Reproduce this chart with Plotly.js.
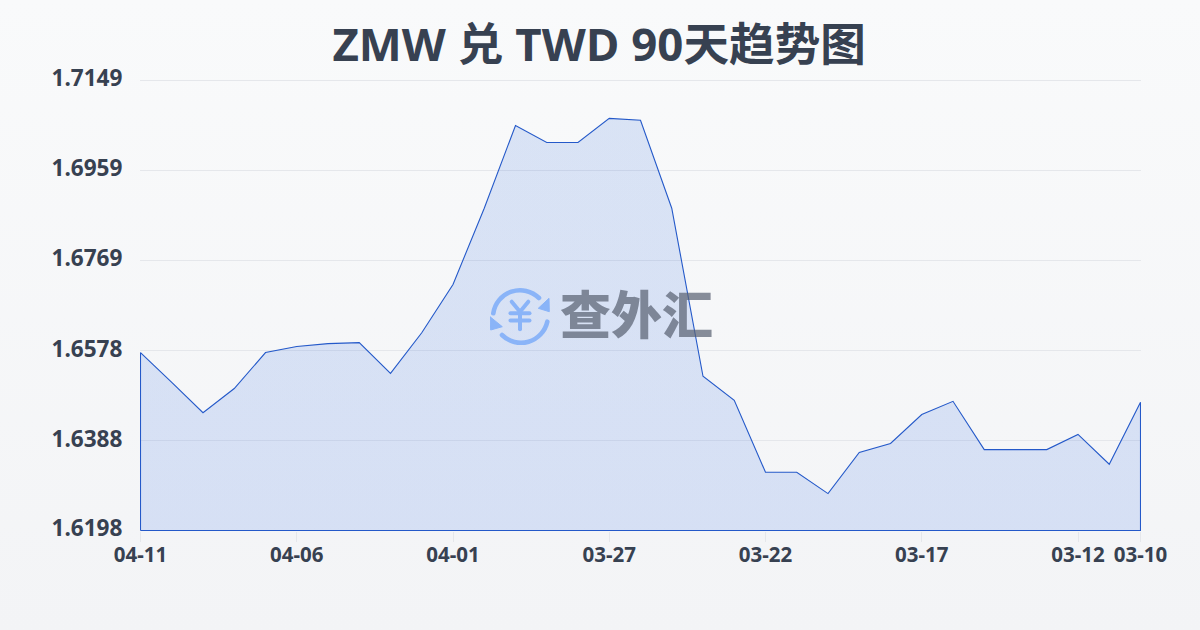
<!DOCTYPE html>
<html>
<head>
<meta charset="utf-8">
<script src="https://cdn.plot.ly/plotly-3.0.1.min.js"></script>
<style>
html,body{margin:0;padding:0;width:1200px;height:630px;overflow:hidden;background:linear-gradient(180deg,#f9fafb 0%,#f3f4f6 100%);}
#chart{width:1200px;height:630px;}
</style>
</head>
<body>
<div id="chart"></div>
<script>
const titleText = "ZMW 兑 TWD 90天趋势图";
const watermarkText = "查外汇";
const dates = ["04-11","04-10","04-09","04-08","04-07","04-06","04-05","04-04","04-03","04-02","04-01",
  "03-31","03-30","03-29","03-28","03-27","03-26","03-25","03-24","03-23","03-22",
  "03-21","03-20","03-19","03-18","03-17","03-16","03-15","03-14","03-13","03-12","03-11","03-10"];
const rates = [1.6574,1.6511,1.6447,1.6498,1.6574,1.6587,1.6593,1.6595,1.6530,1.6616,1.6718,
  1.6879,1.7054,1.7018,1.7018,1.7069,1.7065,1.6879,1.6524,1.6473,1.6321,
  1.6321,1.6276,1.6363,1.6382,1.6443,1.6471,1.6369,1.6369,1.6369,1.6401,1.6338,1.6469];
const xTicks = ["04-11","04-06","04-01","03-27","03-22","03-17","03-12","03-10"];
const yTicks = [1.6198,1.6388,1.6578,1.6769,1.6959,1.7149];
const yTickText = ["1.6198","1.6388","1.6578","1.6769","1.6959","1.7149"];

const yMin = yTicks[0], yMax = yTicks[yTicks.length-1];
const first = dates[0], last = dates[dates.length-1];
// small paddings keep the edge lines crisp on whole pixels and keep the top gridline inside the range
const yUnit = (yMax - yMin) / 450;
const xUnit = (dates.length - 1) / 1000;

const iconSvg = `<svg xmlns="http://www.w3.org/2000/svg" viewBox="0 0 60 60" width="60" height="60">
<g fill="none" stroke="#8ab4f8" stroke-width="4.6" stroke-linecap="round">
<path d="M3.3 27.3 A27 27 0 0 1 49 12"/>
<path d="M57.3 35.7 A27 27 0 0 1 12 49"/>
</g>
<path d="M48.3 22.3 L59 12.3 L59.3 25.7 Z" fill="#8ab4f8" stroke="#8ab4f8" stroke-width="1" stroke-linejoin="round"/>
<path d="M0 30.7 L12.3 40.7 L0.7 44 Z" fill="#8ab4f8" stroke="#8ab4f8" stroke-width="1" stroke-linejoin="round"/>
<g fill="none" stroke="#8ab4f8" stroke-width="4" stroke-linecap="round" stroke-linejoin="round">
<path d="M21.7 15.7 L30 25.7 L38.3 15.7"/>
<path d="M20.5 27.3 L39.5 27.3"/>
<path d="M20.5 34.5 L39.5 34.5"/>
<path d="M30 25.7 L30 43.3"/>
</g></svg>`;

const trace = {
  type: "scatter",
  mode: "lines",
  x: [first].concat(dates, [last, first]),
  y: [yMin].concat(rates, [yMin, yMin]),
  fill: "toself",
  fillgradient: {
    type: "vertical",
    colorscale: [[0,"rgba(37,99,230,0.145)"],[1,"rgba(37,99,215,0.145)"]]
  },
  line: {color: "#2459c9", width: 1.1},
  cliponaxis: false,
  hoverinfo: "skip"
};

const layout = {
  width: 1200, height: 630,
  paper_bgcolor: "rgba(0,0,0,0)",
  plot_bgcolor: "rgba(0,0,0,0)",
  margin: {l:140, r:59, t:79, b:99, pad:0},
  showlegend: false,
  title: {
    text: titleText,
    x: 0.4993, xref: "container", xanchor: "center",
    y: 0.9286, yref: "container", yanchor: "middle",
    font: {family: "'Open Sans','Noto Sans CJK SC',sans-serif", size: 45.6, weight: 700, color: "#374151"}
  },
  xaxis: {
    type: "category",
    categoryorder: "array",
    categoryarray: dates,
    range: [-0.5*xUnit, dates.length-1+0.5*xUnit],
    tickmode: "array",
    tickvals: xTicks,
    ticktext: xTicks,
    ticks: "outside", ticklen: 10, tickwidth: 1, tickcolor: "#e5e7eb",
    showgrid: false, zeroline: false, showline: false,
    tickangle: 0,
    ticklabelstandoff: -5,
    tickfont: {family: "'Noto Sans',sans-serif", size: 20.5, weight: 700, color: "#374151"},
    automargin: false
  },
  yaxis: {
    range: [yMin - 0.5*yUnit, yMax + 1.5*yUnit],
    tickmode: "array",
    tickvals: yTicks,
    ticktext: yTickText,
    ticks: "outside", ticklen: 12, tickwidth: 1, tickcolor: "rgba(0,0,0,0)",
    ticklabelshift: -2,
    showgrid: true, gridcolor: "#e5e7eb", gridwidth: 1,
    zeroline: false, showline: false,
    tickfont: {family: "'Noto Sans',sans-serif", size: 22.6, weight: 700, color: "#374151"},
    automargin: false
  },
  images: [{
    source: "data:image/svg+xml;base64," + btoa(iconSvg),
    xref: "paper", yref: "paper", xanchor: "left", yanchor: "top",
    x: (490-140)/1001, y: (531-286)/452, sizex: 60/1001, sizey: 60/452,
    sizing: "stretch", layer: "above", opacity: 1
  }],
  annotations: [{
    text: watermarkText,
    xref: "paper", yref: "paper", xanchor: "center", yanchor: "middle",
    x: (636-140)/1001, y: (531-311.5)/452,
    showarrow: false,
    font: {family: "'Noto Sans CJK SC',sans-serif", size: 51, weight: 900, color: "rgba(90,98,115,0.72)"}
  }]
};

Plotly.newPlot("chart", [trace], layout, {displayModeBar:false, staticPlot:true});
</script>
</body>
</html>
